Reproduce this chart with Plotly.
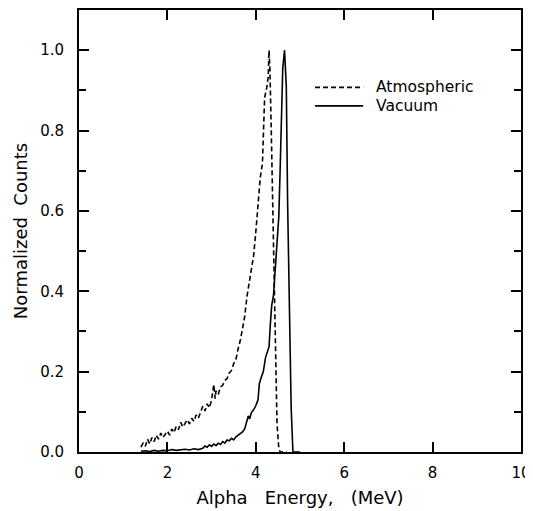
import plotly.graph_objects as go

# Atmospheric (dashed) spectrum
atm_energy = [1.40, 1.45, 1.50, 1.55, 1.60, 1.65, 1.70, 1.75, 1.80, 1.85, 1.90, 1.95,
              2.00, 2.05, 2.10, 2.15, 2.20, 2.25, 2.30, 2.35, 2.40, 2.45, 2.50, 2.55,
              2.60, 2.65, 2.70, 2.75, 2.80, 2.85, 2.90, 2.95, 3.00, 3.05, 3.08, 3.10,
              3.15, 3.20, 3.25, 3.30, 3.35, 3.40, 3.45, 3.50, 3.55, 3.60, 3.65, 3.70,
              3.75, 3.80, 3.85, 3.90, 3.95, 4.00, 4.05, 4.10, 4.15, 4.20, 4.25, 4.28,
              4.30, 4.32, 4.35, 4.38, 4.40, 4.42, 4.45, 4.48, 4.52, 4.55, 4.70]
atm_counts = [0.012, 0.022, 0.014, 0.032, 0.020, 0.036, 0.026, 0.042, 0.032, 0.047, 0.036, 0.044,
              0.052, 0.042, 0.057, 0.048, 0.064, 0.056, 0.074, 0.062, 0.072, 0.080, 0.070, 0.084,
              0.076, 0.092, 0.084, 0.100, 0.114, 0.102, 0.120, 0.110, 0.130, 0.168, 0.133, 0.152,
              0.143, 0.162, 0.166, 0.178, 0.183, 0.197, 0.203, 0.220, 0.230, 0.257, 0.278, 0.307,
              0.338, 0.387, 0.418, 0.457, 0.488, 0.547, 0.608, 0.682, 0.718, 0.882, 0.908, 0.932,
              1.000, 0.950, 0.800, 0.640, 0.530, 0.360, 0.190, 0.070, 0.010, 0.000, 0.000]

# Vacuum (solid) spectrum
vac_energy = [1.40, 1.50, 1.60, 1.70, 1.80, 1.90, 2.00, 2.10, 2.20, 2.30, 2.40, 2.50,
              2.60, 2.70, 2.80, 2.85, 2.90, 2.95, 3.00, 3.05, 3.10, 3.15, 3.20, 3.25,
              3.30, 3.35, 3.40, 3.45, 3.50, 3.55, 3.60, 3.65, 3.70, 3.75, 3.80, 3.83,
              3.86, 3.90, 3.95, 4.00, 4.05, 4.08, 4.12, 4.17, 4.22, 4.27, 4.30, 4.33,
              4.36, 4.40, 4.44, 4.48, 4.52, 4.55, 4.58, 4.61, 4.65, 4.69, 4.72, 4.76,
              4.80, 4.84, 5.00]
vac_counts = [0.002, 0.003, 0.001, 0.004, 0.002, 0.004, 0.003, 0.006, 0.004, 0.005, 0.007, 0.005,
              0.008, 0.006, 0.009, 0.015, 0.012, 0.018, 0.014, 0.020, 0.016, 0.022, 0.019, 0.026,
              0.022, 0.030, 0.028, 0.034, 0.030, 0.038, 0.042, 0.045, 0.050, 0.058, 0.075, 0.090,
              0.082, 0.098, 0.105, 0.115, 0.130, 0.170, 0.185, 0.200, 0.235, 0.252, 0.262, 0.320,
              0.365, 0.390, 0.450, 0.530, 0.585, 0.700, 0.855, 0.955, 1.000, 0.910, 0.620, 0.320,
              0.110, 0.000, 0.000]

x_ticks = [0, 2, 4, 6, 8, 10]
y_ticks = [0.0, 0.2, 0.4, 0.6, 0.8, 1.0]
series_names = ["Atmospheric", "Vacuum"]

FONT = "DejaVu Sans"

fig = go.Figure()
fig.add_trace(go.Scatter(x=atm_energy, y=atm_counts, mode="lines", name=series_names[0],
                         line=dict(color="black", width=1.6, dash="5px,3px"), showlegend=False))
fig.add_trace(go.Scatter(x=vac_energy, y=vac_counts, mode="lines", name=series_names[1],
                         line=dict(color="black", width=1.6), showlegend=False))

# custom legend (line samples + labels), positioned in paper coordinates
legend_rows = [(0.825, "5px,3px", series_names[0]), (0.783, "solid", series_names[1])]
for ypos, dash, label in legend_rows:
    fig.add_shape(type="line", xref="paper", yref="paper", x0=0.534, x1=0.643, y0=ypos, y1=ypos,
                  line=dict(color="black", width=1.6, dash=dash))
    fig.add_annotation(xref="paper", yref="paper", x=0.668, y=ypos, text=label, showarrow=False,
                       xanchor="left", yanchor="middle", font=dict(family=FONT, size=15.5, color="black"))

# the page body has an 8px margin; the figure is offset by it
fig.update_layout(
    width=525, height=503,
    margin=dict(l=71, r=12, t=2, b=59, autoexpand=False),
    paper_bgcolor="white", plot_bgcolor="white",
    font=dict(family=FONT, size=15, color="black"),
)
fig.update_xaxes(
    range=[0, 10], tickvals=x_ticks, ticktext=[str(v) for v in x_ticks],
    showgrid=False, zeroline=False, showline=True, linecolor="black", linewidth=2,
    mirror="ticks", ticks="inside", ticklen=10, tickwidth=1.5, tickcolor="black",
    ticklabelstandoff=6, ticklabeloverflow="allow",
    title=dict(text="Alpha   Energy,   (MeV)", font=dict(family=FONT, size=18), standoff=10),
)
fig.update_yaxes(
    range=[0, 1.1], tickvals=y_ticks, ticktext=["%.1f" % v for v in y_ticks],
    showgrid=False, zeroline=False, showline=True, linecolor="black", linewidth=2,
    mirror="ticks", ticks="inside", ticklen=10, tickwidth=1.5, tickcolor="black",
    ticklabelstandoff=10,
    minor=dict(dtick=0.1, ticks="inside", ticklen=7, tickwidth=1.5, tickcolor="black", showgrid=False),
    title=dict(text="Normalized  Counts", font=dict(family=FONT, size=18), standoff=8),
)

fig.write_html("out.html")
